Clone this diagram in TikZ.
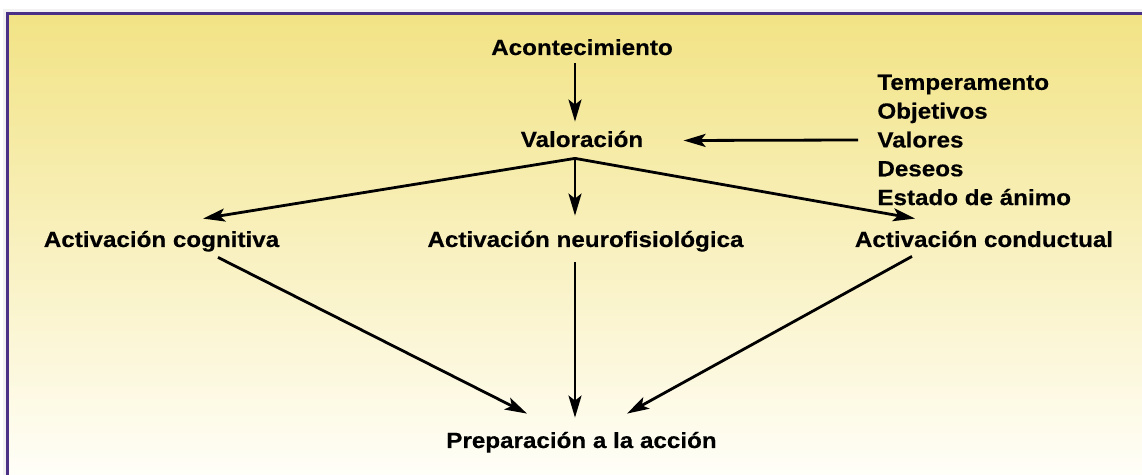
\documentclass[tikz,border=0pt]{standalone}
\usepackage{fontspec}
\setmainfont[FakeStretch=1.1, BoldFeatures={FakeBold=0.4}]{Liberation Sans}
\usetikzlibrary{arrows.meta, positioning, calc}
\definecolor{framepurple}{HTML}{4B3088}
\definecolor{paneltop}{HTML}{F2E385}
\definecolor{panelbottom}{HTML}{FFFEF8}

\begin{document}
\begin{tikzpicture}[x=0.5pt, y=-0.5pt,
  stage/.style={inner sep=5pt, text height=9pt, text depth=2.5pt, anchor=base, font=\fontsize{11}{12}\selectfont\bfseries},
  factors/.style={inner sep=5pt, anchor=west, align=left, font=\fontsize{11}{14.4}\selectfont\bfseries},
  arrow/.style={-{Stealth[length=11pt, width=6.5pt, inset=2.5pt]}, line width=1.4pt, draw=black}
]
  \useasboundingbox (0,0) rectangle (1142,475);
  % panel
  \fill[black!5] (3,9) rectangle (1142,475);
  \shade[top color=paneltop, bottom color=panelbottom] (9,15) rectangle (1142,475);
  \draw[framepurple, line width=1.5pt] (7.5,475) -- (7.5,13.5) -- (1142,13.5);

  \node[stage] (event) at (582,55) {Acontecimiento};
  \node[stage] (appraisal) at (582,147) {Valoración};
  \node[factors] (factors) at (867,140) {Temperamento\\Objetivos\\Valores\\Deseos\\Estado de ánimo};
  \node[stage] (cognitive) at (161.5,247) {Activación cognitiva};
  \node[stage] (neuro) at (585.5,247) {Activación neurofisiológica};
  \node[stage] (behaviour) at (984,247) {Activación conductual};
  \node[stage] (action) at (581.5,448) {Preparación a la acción};
  \coordinate (fork) at ([xshift=-3.5pt, yshift=2pt]appraisal.south);

  \draw[arrow] ([xshift=-3.5pt, yshift=3.5pt]event.south) -- ([xshift=-3.5pt, yshift=-1.5pt]appraisal.north);
  \draw[arrow] ([xshift=-4.5pt]factors.west) -- ([xshift=15pt]appraisal.east);
  \draw[arrow] (fork) -- ([xshift=20.75pt]cognitive.north);
  \draw[arrow] (fork) -- ([xshift=-5.25pt, yshift=1.5pt]neuro.north);
  \draw[arrow] (fork) -- ([xshift=-34.5pt]behaviour.north);

  \draw[arrow] ([xshift=28.25pt, yshift=2.5pt]cognitive.south) -- ([xshift=-27.25pt, yshift=3pt]action.north);
  \draw[arrow] ([xshift=-5.25pt]neuro.south) -- ([xshift=-3.25pt, yshift=1pt]action.north);
  \draw[arrow] ([xshift=-36pt, yshift=3pt]behaviour.south) -- ([xshift=22.75pt, yshift=3pt]action.north);
\end{tikzpicture}
\end{document}
